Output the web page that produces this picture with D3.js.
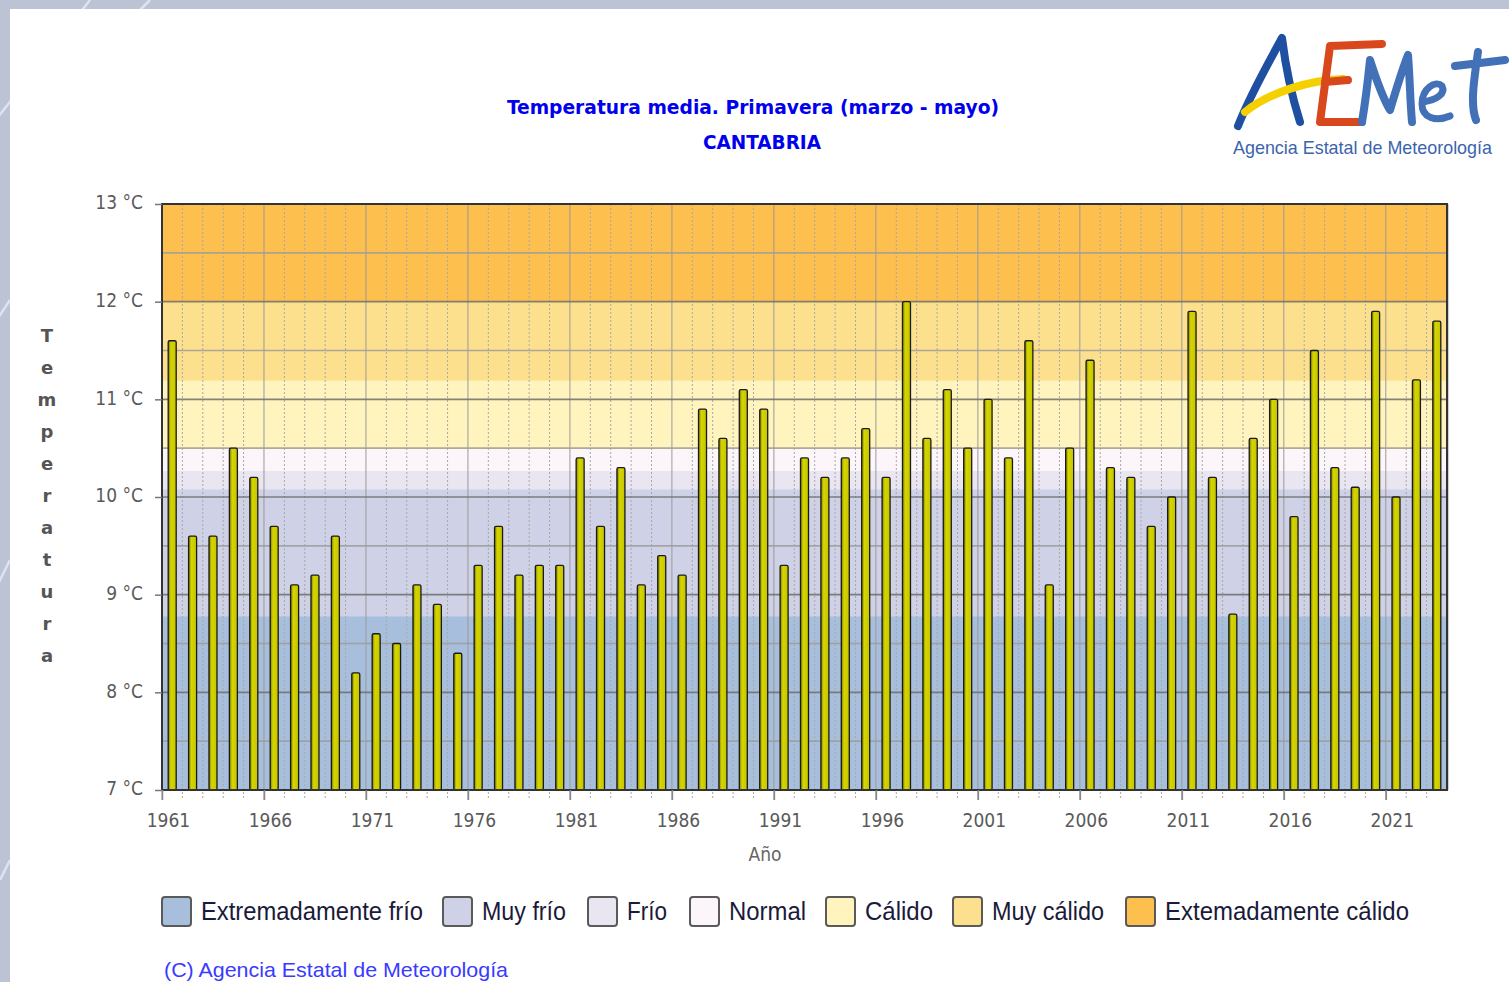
<!DOCTYPE html>
<html>
<head>
<meta charset="utf-8">
<script src="https://cdn.jsdelivr.net/npm/d3@7"></script>
<style>
  body { margin: 0; background: #bcc3d5; overflow: hidden; }
  svg { display: block; }
</style>
</head>
<body>
<svg id="chart" width="1509" height="982"></svg>
<script>
// spring mean temperature, Cantabria
const years = d3.range(1961, 2024);
const temps = [11.6, 9.6, 9.6, 10.5, 10.2, 9.7, 9.1, 9.2, 9.6, 8.2,
  8.6, 8.5, 9.1, 8.9, 8.4, 9.3, 9.7, 9.2, 9.3, 9.3,
  10.4, 9.7, 10.3, 9.1, 9.4, 9.2, 10.9, 10.6, 11.1, 10.9,
  9.3, 10.4, 10.2, 10.4, 10.7, 10.2, 12.0, 10.6, 11.1, 10.5,
  11.0, 10.4, 11.6, 9.1, 10.5, 11.4, 10.3, 10.2, 9.7, 10.0,
  11.9, 10.2, 8.8, 10.6, 11.0, 9.8, 11.5, 10.3, 10.1, 11.9,
  10.0, 11.2, 11.8];
const bandNames = ["Extremadamente frío", "Muy frío", "Frío", "Normal", "Cálido", "Muy cálido", "Extemadamente cálido"];
const bandLimits = [7, 8.78, 10.08, 10.27, 10.49, 11.19, 12.0, 13];
const bandColors = ["#a7bfdd", "#cfd1e6", "#e9e5f1", "#fcf6fa", "#fff4bd", "#fde08e", "#fdbf4e"];
const yTicks = [7, 8, 9, 10, 11, 12, 13];
const xLabels = [1961, 1966, 1971, 1976, 1981, 1986, 1991, 1996, 2001, 2006, 2011, 2016, 2021];

const svg = d3.select("#chart");
const margin = { top: 204, left: 162, right: 1447, bottom: 790 };
const narrow = "Liberation Sans, Arial, sans-serif";

// page panel
svg.append("g").selectAll("line")
  .data([[-20, 140, 90, 0], [120, 30, 150, 0], [-10, 600, 10, 560], [-10, 330, 10, 300], [0, 880, 10, 860]])
  .enter().append("line")
  .attr("x1", d => d[0]).attr("y1", d => d[1]).attr("x2", d => d[2]).attr("y2", d => d[3])
  .attr("stroke", "#dfe3ee").attr("stroke-width", 2.5);
svg.append("rect").attr("x", 10).attr("y", 9).attr("width", 1499).attr("height", 973).attr("fill", "#fff");

const x = d3.scaleBand().domain(years).range([margin.left, margin.right]).padding(0);
const y = d3.scaleLinear().domain([7, 13]).range([margin.bottom, margin.top]);

// colour bands
svg.append("g").selectAll("rect")
  .data(bandColors)
  .enter().append("rect")
  .attr("x", margin.left)
  .attr("width", margin.right - margin.left)
  .attr("y", (c, i) => y(bandLimits[i + 1]))
  .attr("height", (c, i) => y(bandLimits[i]) - y(bandLimits[i + 1]))
  .attr("fill", c => c);

// grid
const grid = svg.append("g");
grid.selectAll(".vg")
  .data(years)
  .enter().append("line")
  .attr("x1", d => x(d)).attr("x2", d => x(d))
  .attr("y1", margin.top).attr("y2", margin.bottom + 10)
  .attr("stroke", d => (d - 1961) % 5 === 0 ? "#9a9a9a" : "#a8a8a8")
  .attr("stroke-width", 1)
  .attr("stroke-dasharray", d => (d - 1961) % 5 === 0 ? null : "2,2");
grid.selectAll(".hg")
  .data(d3.range(7.5, 13, 0.5))
  .enter().append("line")
  .attr("x1", margin.left).attr("x2", margin.right)
  .attr("y1", d => y(d)).attr("y2", d => y(d))
  .attr("stroke", d => d % 1 === 0 ? "#6e6e6e" : "#9c9c9c")
  .attr("stroke-opacity", 0.85)
  .attr("stroke-width", 1.6);

// bars
const defs = svg.append("defs");
const grad = defs.append("linearGradient").attr("id", "barg").attr("x1", 0).attr("x2", 1);
grad.append("stop").attr("offset", "0%").attr("stop-color", "#7d7d00");
grad.append("stop").attr("offset", "35%").attr("stop-color", "#d6d600");
grad.append("stop").attr("offset", "100%").attr("stop-color", "#c4c400");

const bw = 8;
svg.append("g").selectAll("rect")
  .data(temps)
  .enter().append("rect")
  .attr("x", (d, i) => x(years[i]) + x.bandwidth() / 2 - bw / 2)
  .attr("y", d => y(d))
  .attr("width", bw)
  .attr("height", d => y(7) - y(d))
  .attr("fill", "url(#barg)")
  .attr("stroke", "#1a1a1a")
  .attr("stroke-width", 1.3)
  .attr("rx", 1.5);

// frame
svg.append("line").attr("x1", margin.right + 1).attr("x2", margin.right + 1)
  .attr("y1", margin.top).attr("y2", margin.bottom).attr("stroke", "#cfcfcf").attr("stroke-width", 2);
svg.append("rect").attr("x", margin.left).attr("y", margin.top)
  .attr("width", margin.right - margin.left).attr("height", margin.bottom - margin.top)
  .attr("fill", "none").attr("stroke", "#333").attr("stroke-width", 2);

// y axis
const yAxis = svg.append("g")
  .attr("transform", `translate(${margin.left},0)`)
  .call(d3.axisLeft(y).tickValues(yTicks).tickSize(7).tickPadding(12).tickFormat(d => d + " °C"));
yAxis.select(".domain").remove();
yAxis.selectAll("line").attr("stroke", "#777").attr("stroke-width", 1.5);
yAxis.selectAll("text").attr("font-family", "DejaVu Sans Condensed, DejaVu Sans, sans-serif")
  .attr("font-size", 19).attr("fill", "#5a5a5a").attr("dy", "0.25em");

// x axis
const xAxis = svg.append("g")
  .attr("transform", `translate(0,${margin.bottom})`)
  .call(d3.axisBottom(d3.scaleLinear().domain([1961, 2024]).range([margin.left, margin.right]))
    .tickValues(xLabels).tickSize(10).tickPadding(14).tickFormat(d3.format("d")));
xAxis.select(".domain").remove();
xAxis.selectAll("line").attr("stroke", "#888").attr("stroke-width", 1.5);
xAxis.selectAll("text").attr("font-family", "DejaVu Sans Condensed, DejaVu Sans, sans-serif")
  .attr("font-size", 19).attr("fill", "#5a5a5a").attr("dx", 6);

svg.append("text").attr("x", 765).attr("y", 861).attr("text-anchor", "middle")
  .attr("font-family", "DejaVu Sans Condensed, DejaVu Sans, sans-serif").attr("font-size", 19)
  .attr("fill", "#666").text("Año");

// vertical y-axis label, one letter per line
svg.append("g").selectAll("text")
  .data("Temperatura".split(""))
  .enter().append("text")
  .attr("x", 47).attr("y", (d, i) => 342 + i * 32)
  .attr("text-anchor", "middle")
  .attr("font-family", "DejaVu Sans, sans-serif").attr("font-weight", "bold").attr("font-size", 18)
  .attr("fill", "#555").text(d => d);

// titles
svg.append("text").attr("x", 507).attr("y", 114)
  .attr("font-family", "DejaVu Sans Condensed, DejaVu Sans, sans-serif").attr("font-weight", "bold")
  .attr("font-size", 20).attr("fill", "#0000ee")
  .attr("textLength", 492).attr("lengthAdjust", "spacingAndGlyphs")
  .text("Temperatura media. Primavera (marzo - mayo)");
svg.append("text").attr("x", 703).attr("y", 149)
  .attr("font-family", "DejaVu Sans Condensed, DejaVu Sans, sans-serif").attr("font-weight", "bold")
  .attr("font-size", 20).attr("fill", "#0000ee")
  .attr("textLength", 118).attr("lengthAdjust", "spacingAndGlyphs").text("CANTABRIA");

// legend
const legX = [162, 443, 588, 690, 826, 953, 1126];
const legW = [222, 84, 40, 77, 68, 112, 244];
const leg = svg.append("g").selectAll("g")
  .data(bandNames)
  .enter().append("g")
  .attr("transform", (d, i) => `translate(${legX[i]},897)`);
leg.append("rect").attr("width", 29).attr("height", 29).attr("rx", 3)
  .attr("fill", (d, i) => bandColors[i]).attr("stroke", "#5a5a5a").attr("stroke-width", 2);
leg.append("text").attr("x", 39).attr("y", 23)
  .attr("font-family", narrow).attr("font-size", 25)
  .attr("textLength", (d, i) => legW[i]).attr("lengthAdjust", "spacingAndGlyphs")
  .attr("fill", "#1a1a3a").text(d => d);

svg.append("text").attr("x", 164).attr("y", 977)
  .attr("font-family", narrow).attr("font-size", 21)
  .attr("textLength", 344).attr("lengthAdjust", "spacingAndGlyphs")
  .attr("fill", "#3a3aff").text("(C) Agencia Estatal de Meteorología");

// logo
const logo = svg.append("g").attr("fill", "none").attr("stroke-linecap", "round").attr("stroke-linejoin", "round");
logo.append("path").attr("d", "M1238,126 C1250,95 1270,60 1282,38 C1286,70 1293,100 1300,122")
  .attr("stroke", "#1f4fa0").attr("stroke-width", 8);
logo.append("path").attr("d", "M1245,112 C1270,92 1310,80 1343,79")
  .attr("stroke", "#f5d000").attr("stroke-width", 8);
logo.append("path").attr("d", "M1382,44 L1330,46 L1320,122 L1362,122 M1325,82 L1348,80")
  .attr("stroke", "#d9481c").attr("stroke-width", 8);
logo.append("path").attr("d", "M1362,122 C1366,98 1368,80 1370,60 C1378,85 1384,100 1390,110 C1396,90 1402,70 1408,55 C1410,80 1410,100 1412,122")
  .attr("stroke", "#4271b8").attr("stroke-width", 8);
logo.append("path").attr("d", "M1423,102 C1436,100 1446,94 1442,86 C1436,80 1422,88 1422,104 C1422,118 1436,122 1450,116")
  .attr("stroke", "#4271b8").attr("stroke-width", 7);
logo.append("path").attr("d", "M1478,52 C1474,80 1470,105 1476,120 M1455,66 L1505,60")
  .attr("stroke", "#4271b8").attr("stroke-width", 8);
svg.append("text").attr("x", 1233).attr("y", 154)
  .attr("font-family", narrow).attr("font-size", 19)
  .attr("textLength", 259).attr("lengthAdjust", "spacingAndGlyphs")
  .attr("fill", "#3b64ad").text("Agencia Estatal de Meteorología");
</script>
</body>
</html>
